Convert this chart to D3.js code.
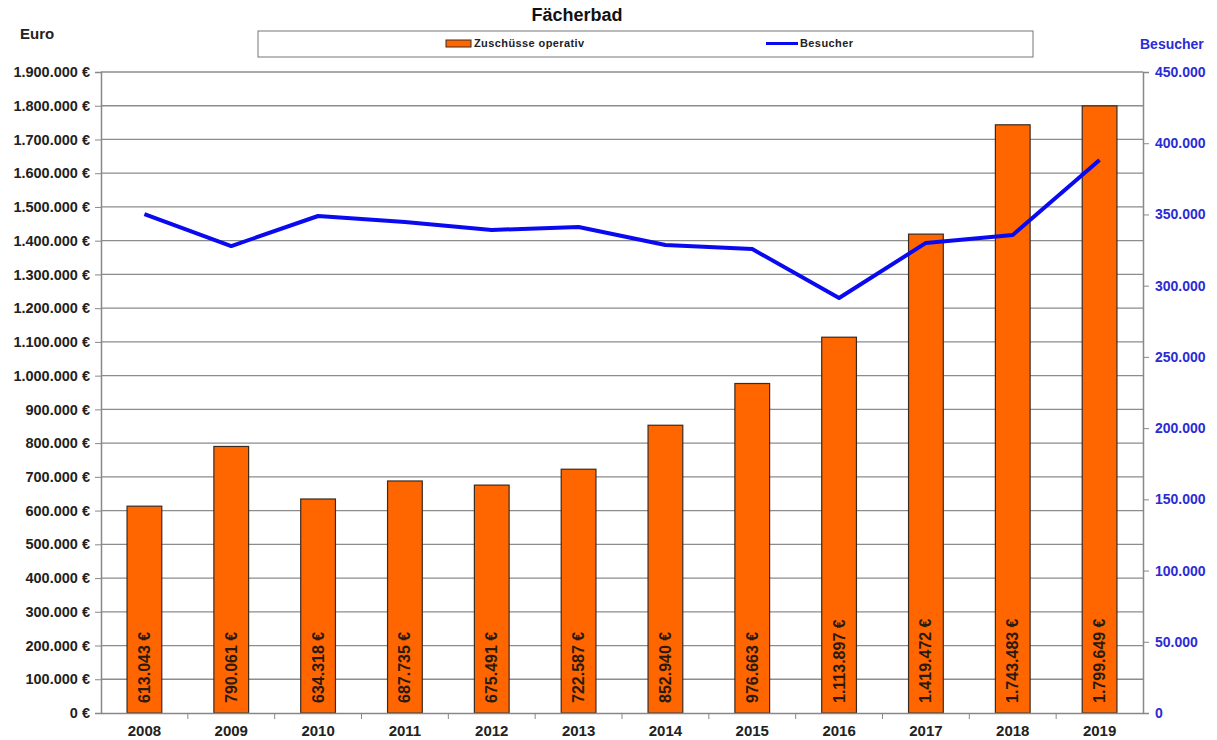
<!DOCTYPE html>
<html>
<head>
<meta charset="utf-8">
<script src="https://cdn.jsdelivr.net/npm/d3@7"></script>
<style>
  body { margin: 0; background: #fff; }
  text { font-family: "Liberation Sans", Arial, sans-serif; font-weight: bold; }
</style>
</head>
<body>
<div class="chart"></div>
<script>
// data
var years = ["2008","2009","2010","2011","2012","2013","2014","2015","2016","2017","2018","2019"];
var zuschuesse = [613043, 790061, 634318, 687735, 675491, 722587, 852940, 976663, 1113897, 1419472, 1743483, 1799649];
var besucher = [350300, 327800, 348900, 344700, 339100, 341200, 328500, 325700, 291300, 330000, 335600, 388200];
var euroTicks = d3.range(0, 1900001, 100000);
var besucherTicks = d3.range(0, 450001, 50000);

var width = 1217, height = 740;
var margin = {left: 101, right: 74, top: 72, bottom: 27};
var innerW = width - margin.left - margin.right,
    innerH = height - margin.top - margin.bottom;

var fmt = d3.formatLocale({decimal: ",", thousands: ".", grouping: [3], currency: ["", " €"]});
var num = fmt.format(",d");

var svg = d3.select(".chart").append("svg")
    .attr("width", width)
    .attr("height", height)
  .append("g")
    .attr("transform", "translate(" + margin.left + "," + margin.top + ")");

// scales
var x = d3.scaleBand().domain(years).range([0, innerW]).paddingInner(0.6).paddingOuter(0.3);
var xTick = d3.scaleBand().domain(years).range([0, innerW]);
var yEuro = d3.scaleLinear().domain([0, 1900000]).range([innerH, 0]);
var yBes = d3.scaleLinear().domain([0, 450000]).range([innerH, 0]);

// gridlines
svg.append("g")
  .selectAll("line")
  .data(euroTicks.slice(1))
  .join("line")
    .attr("x1", 0)
    .attr("x2", innerW)
    .attr("y1", d => yEuro(d))
    .attr("y2", d => yEuro(d))
    .attr("stroke", "#8c8c8c")
    .attr("stroke-width", 1.3);

// bars
svg.append("g")
  .selectAll("rect")
  .data(zuschuesse)
  .join("rect")
    .attr("x", (d, i) => x(years[i]))
    .attr("y", d => yEuro(d))
    .attr("width", x.bandwidth())
    .attr("height", d => innerH - yEuro(d))
    .attr("fill", "#ff6600")
    .attr("stroke", "#3a2a20")
    .attr("stroke-width", 1.2);

// bar labels, written upward from near the bar foot
svg.append("g")
  .selectAll("text")
  .data(zuschuesse)
  .join("text")
    .attr("transform", (d, i) => "translate(" + (x(years[i]) + x.bandwidth() / 2 + 5.5) + "," + (innerH - 10) + ") rotate(-90)")
    .attr("text-anchor", "start")
    .style("font-size", "16px")
    .attr("fill", "#2a1a10")
    .text(d => num(d) + " €");

// line
var line = d3.line()
    .x((d, i) => x(years[i]) + x.bandwidth() / 2)
    .y(d => yBes(d));

svg.append("path")
  .attr("d", line(besucher))
  .attr("fill", "none")
  .attr("stroke", "#0a0af0")
  .attr("stroke-width", 4)
  .attr("stroke-linejoin", "round");

// axes
var axisLeft = svg.append("g")
  .call(d3.axisLeft(yEuro).tickValues(euroTicks).tickSize(6).tickPadding(5).tickFormat(d => num(d) + " €"));
axisLeft.select(".domain").attr("stroke", "#888").attr("stroke-width", 1.5);
axisLeft.selectAll(".tick line").attr("stroke", "#888");
axisLeft.selectAll("text").style("font-size", "14.5px").attr("fill", "#222");

var axisRight = svg.append("g")
  .attr("transform", "translate(" + innerW + ",0)")
  .call(d3.axisRight(yBes).tickValues(besucherTicks).tickSize(6).tickPadding(6).tickFormat(d => num(d)));
axisRight.select(".domain").attr("stroke", "#888").attr("stroke-width", 1.5);
axisRight.selectAll(".tick line").attr("stroke", "#888");
axisRight.selectAll("text").style("font-size", "14px").attr("fill", "#2b2bd6");

var axisBottom = svg.append("g")
  .attr("transform", "translate(0," + innerH + ")")
  .call(d3.axisBottom(x).tickSize(0).tickPadding(12));
axisBottom.select(".domain").attr("stroke", "#888").attr("stroke-width", 1.5);
axisBottom.selectAll("text").style("font-size", "15px").attr("fill", "#222");

// tick marks between categories
svg.append("g")
  .selectAll("line")
  .data(years.slice(1))
  .join("line")
    .attr("x1", d => xTick(d))
    .attr("x2", d => xTick(d))
    .attr("y1", innerH)
    .attr("y2", innerH + 6)
    .attr("stroke", "#888");

// titles
var root = d3.select(".chart svg");
root.append("text")
  .attr("x", 577).attr("y", 21)
  .attr("text-anchor", "middle")
  .style("font-size", "18px")
  .attr("fill", "#111")
  .text("Fächerbad");

root.append("text")
  .attr("x", 20).attr("y", 39)
  .style("font-size", "15px")
  .attr("fill", "#222")
  .text("Euro");

root.append("text")
  .attr("x", 1140).attr("y", 49)
  .style("font-size", "14px")
  .attr("fill", "#2b2bd6")
  .text("Besucher");

// legend
var legend = root.append("g");
legend.append("rect")
  .attr("x", 258).attr("y", 31)
  .attr("width", 775).attr("height", 26)
  .attr("fill", "#fff")
  .attr("stroke", "#777");
legend.append("rect")
  .attr("x", 446).attr("y", 40)
  .attr("width", 25).attr("height", 7)
  .attr("fill", "#ff6600")
  .attr("stroke", "#3a2a20");
legend.append("text")
  .attr("x", 474).attr("y", 47)
  .style("font-size", "11px")
  .style("letter-spacing", "0.4px")
  .attr("fill", "#222")
  .text("Zuschüsse operativ");
legend.append("line")
  .attr("x1", 766).attr("x2", 798)
  .attr("y1", 43.5).attr("y2", 43.5)
  .attr("stroke", "#0a0af0")
  .attr("stroke-width", 3);
legend.append("text")
  .attr("x", 800).attr("y", 47)
  .style("font-size", "11px")
  .style("letter-spacing", "0.4px")
  .attr("fill", "#222")
  .text("Besucher");
</script>
</body>
</html>
